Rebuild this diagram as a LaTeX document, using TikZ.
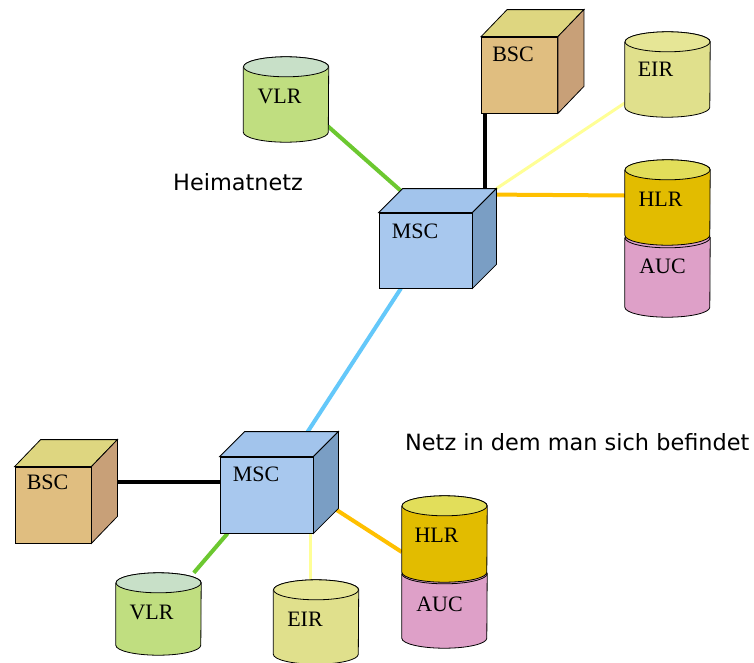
\documentclass[tikz,border=0pt]{standalone}
\usepackage{fontspec}
\setmainfont{Liberation Serif}
\newfontfamily\headfont{DejaVu Sans}
\usetikzlibrary{backgrounds}

\definecolor{mscface}{RGB}{168,200,238}
\definecolor{msctop}{RGB}{162,196,236}
\definecolor{mscside}{RGB}{122,158,196}
\definecolor{bscface}{RGB}{224,190,128}
\definecolor{bsctop}{RGB}{222,214,128}
\definecolor{bscside}{RGB}{200,160,120}
\definecolor{vlrbody}{RGB}{192,222,128}
\definecolor{vlrtop}{RGB}{200,224,200}
\definecolor{eirbody}{RGB}{224,224,140}
\definecolor{eirtop}{RGB}{230,230,150}
\definecolor{hlrbody}{RGB}{226,188,0}
\definecolor{hlrtop}{RGB}{226,222,90}
\definecolor{aucbody}{RGB}{222,160,200}
\definecolor{vlrline}{RGB}{108,200,48}
\definecolor{eirline}{RGB}{255,255,150}
\definecolor{hlrline}{RGB}{255,192,0}
\definecolor{mscline}{RGB}{100,200,250}

\begin{document}
\begin{tikzpicture}[x=1pt,y=-1pt]
  \tikzstyle{every node}+=[inner sep=0pt]
  \tikzstyle{edge}=[draw=black,line width=0.8pt]
  \tikzstyle{lbl}=[font=\fontsize{22}{22}\selectfont]
  \tikzstyle{title}=[font=\headfont\fontsize{22.4}{22.4}\selectfont,anchor=base west]
  \tikzstyle{msc}=[edge,fill=mscface,minimum width=93pt,minimum height=75pt]
  \tikzstyle{bsc}=[edge,fill=bscface,minimum width=76pt,minimum height=76pt]
  \tikzstyle{db}=[minimum width=85pt]
  \tikzstyle{dbend}=[x radius=42.5pt,y radius=10pt]
  \tikzstyle{link}=[line width=4pt]
  \useasboundingbox (0,0) rectangle (754,662);

  % home network
  \node[bsc,label={[lbl,anchor=north west,xshift=11pt,yshift=-10pt]north west:BSC}] (bsc1) at (519.5,75) {};
  \draw[edge,fill=bsctop] (bsc1.north west) -- ([shift={(26,-27)}]bsc1.north west) -- ([shift={(26,-27)}]bsc1.north east) -- (bsc1.north east) -- cycle;
  \draw[edge,fill=bscside] (bsc1.north east) -- ([shift={(26,-27)}]bsc1.north east) -- ([shift={(26,-27)}]bsc1.south east) -- (bsc1.south east) -- cycle;
  \node[msc,label={[lbl,anchor=north west,xshift=13pt,yshift=-11pt]north west:MSC}] (msc1) at (425.5,250.5) {};
  \draw[edge,fill=msctop] (msc1.north west) -- ([shift={(24,-24)}]msc1.north west) -- ([shift={(24,-24)}]msc1.north east) -- (msc1.north east) -- cycle;
  \draw[edge,fill=mscside] (msc1.north east) -- ([shift={(24,-24)}]msc1.north east) -- ([shift={(24,-24)}]msc1.south east) -- (msc1.south east) -- cycle;
  \coordinate (msc1-tr) at ([shift={(24,-24)}]msc1.north east);

  \node[db,minimum height=85pt] (vlr1) at (286,99.5) {};
  \draw[edge,fill=vlrbody] ([yshift=-10pt]vlr1.north west) -- ([yshift=10pt]vlr1.south west) arc[start angle=180,end angle=360,dbend] -- ([yshift=-10pt]vlr1.north east) arc[start angle=0,end angle=180,dbend];
  \draw[edge,fill=vlrtop] ([yshift=-10pt]vlr1.north) ellipse[dbend];
  \node[lbl] (vlr1-t) at ([xshift=-6.5pt,yshift=3.5pt]vlr1) {VLR};

  \node[db,minimum height=85pt] (eir1) at (667.5,74.5) {};
  \draw[edge,fill=eirbody] ([yshift=-10pt]eir1.north west) -- ([yshift=10pt]eir1.south west) arc[start angle=180,end angle=360,dbend] -- ([yshift=-10pt]eir1.north east) arc[start angle=0,end angle=180,dbend];
  \draw[edge,fill=eirtop] ([yshift=-10pt]eir1.north) ellipse[dbend];
  \node[lbl] (eir1-t) at ([xshift=-12pt,yshift=5pt]eir1) {EIR};

  \node[db,minimum height=89pt] (auc1) at (667.5,272.5) {};
  \draw[edge,fill=aucbody] ([yshift=-10pt]auc1.north west) -- ([yshift=10pt]auc1.south west) arc[start angle=180,end angle=360,dbend] -- ([yshift=-10pt]auc1.north east) arc[start angle=0,end angle=180,dbend];
  \draw[edge,fill=aucbody] ([yshift=-10pt]auc1.north) ellipse[dbend];
  \node[db,minimum height=85pt] (hlr1) at (667.5,202.5) {};
  \draw[edge,fill=hlrbody] ([yshift=-10pt]hlr1.north west) -- ([yshift=10pt]hlr1.south west) arc[start angle=180,end angle=360,dbend] -- ([yshift=-10pt]hlr1.north east) arc[start angle=0,end angle=180,dbend];
  \draw[edge,fill=hlrtop] ([yshift=-10pt]hlr1.north) ellipse[dbend];
  \node[lbl] (hlr1-t) at ([xshift=-7pt,yshift=3pt]hlr1) {HLR};
  \node[lbl] (auc1-t) at ([xshift=-5pt,yshift=6pt]auc1) {AUC};

  \node[title] (home) at (173,190) {Heimatnetz};

  % visited network
  \node[bsc,label={[lbl,anchor=north west,xshift=12pt,yshift=-8pt]north west:BSC}] (bsc2) at (53,505) {};
  \draw[edge,fill=bsctop] (bsc2.north west) -- ([shift={(26,-27)}]bsc2.north west) -- ([shift={(26,-27)}]bsc2.north east) -- (bsc2.north east) -- cycle;
  \draw[edge,fill=bscside] (bsc2.north east) -- ([shift={(26,-27)}]bsc2.north east) -- ([shift={(26,-27)}]bsc2.south east) -- (bsc2.south east) -- cycle;
  \node[msc,minimum height=76pt,label={[lbl,anchor=north west,xshift=13pt,yshift=-10pt]north west:MSC}] (msc2) at (266.5,495) {};
  \draw[edge,fill=msctop] (msc2.north west) -- ([shift={(25,-25)}]msc2.north west) -- ([shift={(25,-25)}]msc2.north east) -- (msc2.north east) -- cycle;
  \draw[edge,fill=mscside] (msc2.north east) -- ([shift={(25,-25)}]msc2.north east) -- ([shift={(25,-25)}]msc2.south east) -- (msc2.south east) -- cycle;

  \node[db,minimum height=82pt] (vlr2) at (158.5,614) {};
  \draw[edge,fill=vlrbody] ([yshift=-10pt]vlr2.north west) -- ([yshift=10pt]vlr2.south west) arc[start angle=180,end angle=360,dbend] -- ([yshift=-10pt]vlr2.north east) arc[start angle=0,end angle=180,dbend];
  \draw[edge,fill=vlrtop] ([yshift=-10pt]vlr2.north) ellipse[dbend];
  \node[lbl] (vlr2-t) at ([xshift=-7pt,yshift=2pt]vlr2) {VLR};

  \node[db,minimum height=84pt] (eir2) at (316,622) {};
  \draw[edge,fill=eirbody] ([yshift=-10pt]eir2.north west) -- ([yshift=10pt]eir2.south west) arc[start angle=180,end angle=360,dbend] -- ([yshift=-10pt]eir2.north east) arc[start angle=0,end angle=180,dbend];
  \draw[edge,fill=eirtop] ([yshift=-10pt]eir2.north) ellipse[dbend];
  \node[lbl] (eir2-t) at ([xshift=-11pt,yshift=2.5pt]eir2) {EIR};

  \node[db,minimum height=84pt] (auc2) at (444.5,606) {};
  \draw[edge,fill=aucbody] ([yshift=-10pt]auc2.north west) -- ([yshift=10pt]auc2.south west) arc[start angle=180,end angle=360,dbend] -- ([yshift=-10pt]auc2.north east) arc[start angle=0,end angle=180,dbend];
  \draw[edge,fill=aucbody] ([yshift=-10pt]auc2.north) ellipse[dbend];
  \node[db,minimum height=86pt] (hlr2) at (444.5,539) {};
  \draw[edge,fill=hlrbody] ([yshift=-10pt]hlr2.north west) -- ([yshift=10pt]hlr2.south west) arc[start angle=180,end angle=360,dbend] -- ([yshift=-10pt]hlr2.north east) arc[start angle=0,end angle=180,dbend];
  \draw[edge,fill=hlrtop] ([yshift=-10pt]hlr2.north) ellipse[dbend];
  \node[lbl] (hlr2-t) at ([xshift=-8pt,yshift=3.5pt]hlr2) {HLR};
  \node[lbl] (auc2-t) at ([xshift=-5pt,yshift=1.5pt]auc2) {AUC};

  \node[title] (visited) at (405,450) {Netz in dem man sich befindet};

  \begin{scope}[on background layer]
    \fill[white] (0,0) rectangle (754,662);
    \draw[link,vlrline] ([xshift=-2pt,yshift=17pt]vlr1.south east) -- (msc1.north);
    \draw[link,black,line width=4.5pt] ([xshift=4pt]bsc1.south west) -- ([xshift=4pt]bsc1.south west |- msc1.north);
    \draw[link,eirline,line width=3pt] (msc1-tr) -- (eir1);
    \draw[link,hlrline] ([yshift=-6pt]msc1-tr) -- ([yshift=7pt]hlr1.west);
    \draw[link,mscline] (msc1) -- (msc2);
    \draw[link,black,line width=4.5pt] ([yshift=13pt]msc2.west) -- ([yshift=13pt]msc2.west -| bsc2.east);
    \draw[link,vlrline] ([xshift=8pt]msc2.south west) -- (vlr2);
    \draw[link,eirline,line width=3pt] ([xshift=-3pt]msc2.south east) -- ([xshift=-3pt]msc2.south east |- eir2.north);
    \draw[link,hlrline] (msc2.east) -- ([yshift=-13pt]hlr2.west);
  \end{scope}
\end{tikzpicture}
\end{document}
